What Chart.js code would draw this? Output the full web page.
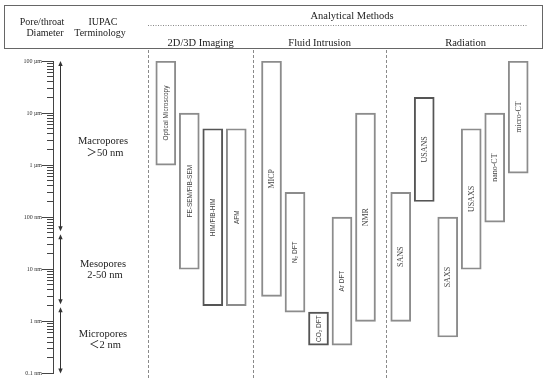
<!DOCTYPE html>
<html>
<head>
<meta charset="utf-8">
<script src="https://cdn.jsdelivr.net/npm/chart.js@4.4.1/dist/chart.umd.min.js"></script>
<style>
  html, body { margin: 0; padding: 0; background: #fff; }
  #wrap { width: 550px; height: 382px; }
</style>
</head>
<body>
<div id="wrap"><canvas id="chart"></canvas></div>
<script>
// methods and the pore size range (metres) each one covers
const methods = ['Optical Microscopy', 'FE-SEM/FIB-SEM', 'HIM/FIB-HIM', 'AFM',
                 'MICP', 'N₂ DFT', 'CO₂ DFT', 'Ar DFT', 'NMR',
                 'SANS', 'USANS', 'SAXS', 'USAXS', 'nano-CT', 'micro-CT'];
const slots = [0, 1, 2, 3, 4.5, 5.5, 6.5, 7.5, 8.5, 10, 11, 12, 13, 14, 15];
const minSize = [1e-6, 1e-8, 2e-9, 2e-9, 3e-9, 1.5e-9, 3.5e-10, 3.5e-10, 1e-9,
                 1e-9, 2e-7, 5e-10, 1e-8, 8e-8, 7e-7];
const maxSize = [1e-4, 1e-5, 5e-6, 5e-6, 1e-4, 3e-7, 1.5e-9, 1e-7, 1e-5,
                 3e-7, 2e-5, 1e-7, 5e-6, 1e-5, 1e-4];

const groups = ['2D/3D Imaging', 'Fluid Intrusion', 'Radiation'];
const separators = [-0.75, 3.72, 9.38];

const poreClasses = [['Macropores', '＞50 nm'], ['Mesopores', '2-50 nm'], ['Micropores', '＜2 nm']];
const classBounds = [1e-4, 5e-8, 2e-9, 1e-10];

const decadeValues = [1e-10, 1e-9, 1e-8, 1e-7, 1e-6, 1e-5, 1e-4];
const decadeLabels = ['0.1 nm', '1 nm', '10 nm', '100 nm', '1 µm', '10 µm', '100 µm'];

const serif = '"Liberation Serif", "Noto Sans CJK SC", serif';
const sans = '"Liberation Sans", Arial, sans-serif';
const darkBars = ['HIM/FIB-HIM', 'CO₂ DFT', 'USANS'];
const sansLabels = ['Optical Microscopy', 'FE-SEM/FIB-SEM', 'HIM/FIB-HIM', 'AFM', 'N₂ DFT', 'CO₂ DFT', 'Ar DFT'];

// minor + major ticks of the log ladder
const ladderTicks = [];
decadeValues.forEach((d, i) => {
    if (i === decadeValues.length - 1) { ladderTicks.push(d); return; }
    for (let k = 1; k <= 9; k++) ladderTicks.push(parseFloat((k * d).toPrecision(3)));
});

function isDecade(v) {
    const e = Math.log10(v);
    return Math.abs(e - Math.round(e)) < 1e-6;
}

function arrowHead(ctx, x, y, dir) {
    ctx.beginPath();
    ctx.moveTo(x, y);
    ctx.lineTo(x - 2.2, y - dir * 5);
    ctx.lineTo(x + 2.2, y - dir * 5);
    ctx.closePath();
    ctx.fill();
}

const decor = {
    id: 'decor',
    beforeDatasetsDraw(chart) {
        const ctx = chart.ctx;
        const xs = chart.scales.x;
        ctx.save();
        ctx.strokeStyle = '#8a8a8a';
        ctx.lineWidth = 1;
        ctx.setLineDash([3, 2]);
        separators.forEach(s => {
            const px = Math.round(xs.getPixelForValue(s)) + 0.5;
            ctx.beginPath();
            ctx.moveTo(px, 50);
            ctx.lineTo(px, 379);
            ctx.stroke();
        });
        ctx.restore();
    },
    afterDatasetsDraw(chart) {
        const ctx = chart.ctx;
        const ys = chart.scales.y;
        const xs = chart.scales.x;
        ctx.save();

        // labels inside the bars
        const meta = chart.getDatasetMeta(0);
        meta.data.forEach((bar, i) => {
            const cy = (bar.y + bar.base) / 2;
            ctx.save();
            ctx.translate(bar.x, cy);
            ctx.rotate(-Math.PI / 2);
            ctx.fillStyle = '#444';
            ctx.textAlign = 'center';
            ctx.textBaseline = 'middle';
            ctx.font = sansLabels.includes(methods[i]) ? '6.5px ' + sans : '8px ' + serif;
            ctx.fillText(methods[i], 0, 0.5);
            ctx.restore();
        });

        // major ticks extended to the labels
        ctx.strokeStyle = '#444';
        ctx.lineWidth = 1;
        decadeValues.forEach(v => {
            const py = Math.round(ys.getPixelForValue(v)) + 0.5;
            ctx.beginPath();
            ctx.moveTo(chart.chartArea.left - 11, py);
            ctx.lineTo(chart.chartArea.left - 5, py);
            ctx.stroke();
        });

        // pore class arrows
        ctx.fillStyle = '#333';
        ctx.strokeStyle = '#333';
        const ax = 60.5;
        for (let i = 0; i < classBounds.length - 1; i++) {
            let y1 = ys.getPixelForValue(classBounds[i]);
            let y2 = ys.getPixelForValue(classBounds[i + 1]);
            if (i > 0) y1 += 1.5;
            if (i < classBounds.length - 2) y2 -= 1.5;
            ctx.beginPath();
            ctx.moveTo(ax, y1 + 3);
            ctx.lineTo(ax, y2 - 3);
            ctx.stroke();
            arrowHead(ctx, ax, y1, -1);
            arrowHead(ctx, ax, y2, 1);
            const mid = ys.getPixelForValue(Math.sqrt(classBounds[i] * classBounds[i + 1]));
            ctx.fillStyle = '#222';
            ctx.textAlign = 'center';
            ctx.textBaseline = 'middle';
            ctx.font = '10.5px ' + serif;
            ctx.fillText(poreClasses[i][0], 103, mid - 5.5);
            ctx.fillText(poreClasses[i][1], 105, mid + 6);
            ctx.fillStyle = '#333';
        }

        // header box
        ctx.strokeStyle = '#666';
        ctx.strokeRect(4.5, 5.5, 538, 43);
        ctx.setLineDash([1, 1.5]);
        ctx.strokeStyle = '#888';
        ctx.beginPath();
        ctx.moveTo(148, 25.5);
        ctx.lineTo(528, 25.5);
        ctx.stroke();
        ctx.setLineDash([]);

        ctx.fillStyle = '#222';
        ctx.textAlign = 'center';
        ctx.textBaseline = 'middle';
        ctx.font = '10px ' + serif;
        ctx.fillText('Pore/throat', 42, 22);
        ctx.fillText('Diameter', 45, 33);
        ctx.fillText('IUPAC', 103, 22);
        ctx.fillText('Terminology', 100, 33);
        ctx.font = '10.5px ' + serif;
        ctx.fillText('Analytical Methods', 352, 16);
        const edges = separators.map(s => xs.getPixelForValue(s)).concat([chart.chartArea.right]);
        groups.forEach((g, i) => {
            ctx.fillText(g, (edges[i] + edges[i + 1]) / 2, 43);
        });
        ctx.restore();
    }
};

new Chart(document.getElementById('chart'), {
    type: 'bar',
    data: {
        datasets: [{
            data: methods.map((m, i) => ({ x: slots[i], y: [minSize[i], maxSize[i]] })),
            backgroundColor: 'rgba(255,255,255,0)',
            borderColor: methods.map(m => darkBars.includes(m) ? '#555' : '#8c8c8c'),
            borderWidth: 1.3,
            borderSkipped: false,
            barThickness: 20
        }]
    },
    options: {
        responsive: true,
        maintainAspectRatio: false,
        animation: false,
        layout: { padding: { top: 61, bottom: 6, left: 0, right: 5 } },
        plugins: { legend: { display: false }, tooltip: { enabled: false } },
        scales: {
            x: { type: 'linear', display: false, offset: false, min: -4.8, max: 16.14 },
            y: {
                type: 'logarithmic',
                position: 'left',
                min: 1e-10,
                max: 1e-4,
                afterFit(scale) { scale.width = 53; },
                afterBuildTicks(scale) { scale.ticks = ladderTicks.map(v => ({ value: v })); },
                border: { display: true, color: '#444', width: 1 },
                grid: { drawOnChartArea: false, tickLength: 6, tickColor: '#444', tickWidth: 1 },
                ticks: {
                    autoSkip: false,
                    padding: 5,
                    color: '#333',
                    font: { family: serif, size: 6 },
                    callback(v) {
                        if (!isDecade(v)) return '';
                        const idx = decadeValues.findIndex(d => Math.abs(Math.log10(d) - Math.log10(v)) < 1e-6);
                        return decadeLabels[idx];
                    }
                }
            }
        }
    },
    plugins: [decor]
});
</script>
</body>
</html>
